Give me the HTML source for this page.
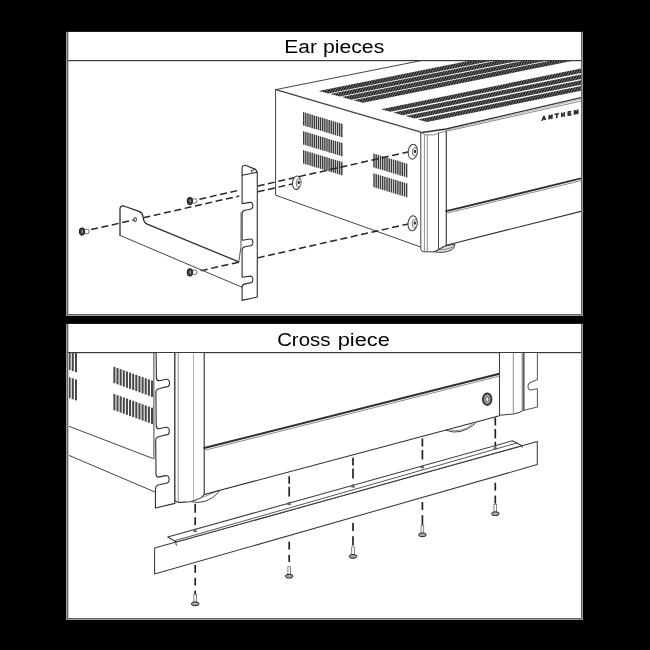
<!DOCTYPE html>
<html><head><meta charset="utf-8"><title>Rack mount</title>
<style>
html,body{margin:0;padding:0;background:#000;}
body{width:650px;height:650px;overflow:hidden;position:relative;font-family:"Liberation Sans",sans-serif;}
svg{position:absolute;left:0;top:0;display:block;will-change:transform;}
.k{fill:none;stroke:#2e2e2e;stroke-width:1.15;stroke-linecap:round;stroke-linejoin:round}
.m{fill:none;stroke:#444;stroke-width:1;stroke-linecap:round;stroke-linejoin:round}
.t{fill:none;stroke:#777;stroke-width:.85;stroke-linecap:round;stroke-linejoin:round}
.l{fill:none;stroke:#a8a8a8;stroke-width:.85;stroke-linecap:round}
.w{fill:#fff;stroke:#2e2e2e;stroke-width:1.1;stroke-linejoin:round}
.wm{fill:#fff;stroke:#3c3c3c;stroke-width:1.05;stroke-linejoin:round}
.d{fill:none;stroke:#262626;stroke-width:1.5;stroke-dasharray:7 3.6}
.dv{fill:none;stroke:#222;stroke-width:1.7}
.v{stroke:#3c3c3c;stroke-width:1.45;fill:none}
.v2{stroke:#484848;stroke-width:2.05;fill:none}
.h{font-family:"Liberation Sans",sans-serif;font-size:19.2px;fill:#000}
</style></head><body>
<svg width="650" height="650" viewBox="0 0 650 650">
<defs>
<pattern id="hatch" width="2.2" height="4" patternUnits="userSpaceOnUse" patternTransform="rotate(28)">
<rect width="2.2" height="4" fill="#7c7c7c"/><rect width="1.4" height="4" fill="#232323"/>
</pattern>
<clipPath id="c1"><rect x="69" y="61" width="512" height="253"/></clipPath>
<clipPath id="c2"><rect x="69" y="353" width="512" height="265"/></clipPath>
</defs>
<rect width="650" height="650" fill="#000"/>

<rect x="66" y="31" width="517" height="285" fill="#9a9a9a"/>
<rect x="67" y="31" width="515" height="284" fill="#666"/>
<rect x="66" y="31" width="517" height="1" fill="#1a1a1a"/>
<rect x="68" y="32" width="513" height="282" fill="#fff"/>
<rect x="68" y="32" width="1" height="282" fill="#c8c8c8"/>
<rect x="68" y="60" width="513" height="1.2" fill="#3a3a3a"/>
<rect x="66" y="323" width="517" height="297" fill="#9a9a9a"/>
<rect x="67" y="323" width="515" height="296" fill="#666"/>
<rect x="66" y="323" width="517" height="1" fill="#1a1a1a"/>
<rect x="68" y="324" width="513" height="294" fill="#fff"/>
<rect x="68" y="324" width="1" height="294" fill="#c8c8c8"/>
<rect x="68" y="352" width="513" height="1.2" fill="#3a3a3a"/>
<text x="284.28" y="52.9" class="h" textLength="32.6" lengthAdjust="spacingAndGlyphs">Ear</text>
<text x="322.9" y="52.9" class="h" textLength="61.39" lengthAdjust="spacingAndGlyphs">pieces</text>
<text x="277.15" y="346" class="h" textLength="53.2" lengthAdjust="spacingAndGlyphs">Cross</text>
<text x="337.68" y="346" class="h" textLength="52.21" lengthAdjust="spacingAndGlyphs">piece</text>
<g clip-path="url(#c1)">
<line x1="275.80" y1="89.60" x2="425.00" y2="59.80" class="m" />
<polygon points="318.6,90.9 586.0,37.4 586.0,42.0 328.3,93.5" fill="url(#hatch)"/>
<polygon points="330.1,94.0 586.0,42.8 586.0,47.4 339.8,96.6" fill="url(#hatch)"/>
<polygon points="341.6,97.1 586.0,48.2 586.0,52.8 351.3,99.7" fill="url(#hatch)"/>
<polygon points="353.1,100.2 586.0,53.6 586.0,58.2 362.8,102.8" fill="url(#hatch)"/>
<polygon points="381.0,109.2 586.0,67.5 586.0,72.0 390.4,111.8" fill="url(#hatch)"/>
<polygon points="393.2,112.6 586.0,73.4 586.0,77.9 402.6,115.2" fill="url(#hatch)"/>
<polygon points="405.4,116.0 586.0,79.2 586.0,83.8 414.8,118.6" fill="url(#hatch)"/>
<polygon points="417.6,119.4 586.0,85.1 586.0,89.7 427.0,122.0" fill="url(#hatch)"/>
<path d="M275.8,89.6 L420,131.9 Q421.4,132.4 421.3,134" class="m" style="stroke-width:1.5"/>
<path d="M275.6,89.6 L275.6,195.2 L421.3,247.2" class="m" />
<line x1="303.70" y1="112.20" x2="303.70" y2="125.60" class="v" />
<line x1="305.82" y1="112.84" x2="305.82" y2="126.24" class="v" />
<line x1="307.93" y1="113.48" x2="307.93" y2="126.88" class="v" />
<line x1="310.05" y1="114.12" x2="310.05" y2="127.52" class="v" />
<line x1="312.17" y1="114.77" x2="312.17" y2="128.17" class="v" />
<line x1="314.28" y1="115.41" x2="314.28" y2="128.81" class="v" />
<line x1="316.40" y1="116.05" x2="316.40" y2="129.45" class="v" />
<line x1="318.52" y1="116.69" x2="318.52" y2="130.09" class="v" />
<line x1="320.63" y1="117.33" x2="320.63" y2="130.73" class="v" />
<line x1="322.75" y1="117.97" x2="322.75" y2="131.37" class="v" />
<line x1="324.87" y1="118.61" x2="324.87" y2="132.01" class="v" />
<line x1="326.98" y1="119.25" x2="326.98" y2="132.65" class="v" />
<line x1="329.10" y1="119.90" x2="329.10" y2="133.30" class="v" />
<line x1="331.22" y1="120.54" x2="331.22" y2="133.94" class="v" />
<line x1="333.33" y1="121.18" x2="333.33" y2="134.58" class="v" />
<line x1="335.45" y1="121.82" x2="335.45" y2="135.22" class="v" />
<line x1="337.57" y1="122.46" x2="337.57" y2="135.86" class="v" />
<line x1="339.68" y1="123.10" x2="339.68" y2="136.50" class="v" />
<line x1="341.80" y1="123.74" x2="341.80" y2="137.14" class="v" />
<line x1="303.70" y1="131.30" x2="303.70" y2="144.70" class="v" />
<line x1="305.82" y1="131.94" x2="305.82" y2="145.34" class="v" />
<line x1="307.93" y1="132.58" x2="307.93" y2="145.98" class="v" />
<line x1="310.05" y1="133.22" x2="310.05" y2="146.62" class="v" />
<line x1="312.17" y1="133.87" x2="312.17" y2="147.27" class="v" />
<line x1="314.28" y1="134.51" x2="314.28" y2="147.91" class="v" />
<line x1="316.40" y1="135.15" x2="316.40" y2="148.55" class="v" />
<line x1="318.52" y1="135.79" x2="318.52" y2="149.19" class="v" />
<line x1="320.63" y1="136.43" x2="320.63" y2="149.83" class="v" />
<line x1="322.75" y1="137.07" x2="322.75" y2="150.47" class="v" />
<line x1="324.87" y1="137.71" x2="324.87" y2="151.11" class="v" />
<line x1="326.98" y1="138.35" x2="326.98" y2="151.75" class="v" />
<line x1="329.10" y1="139.00" x2="329.10" y2="152.40" class="v" />
<line x1="331.22" y1="139.64" x2="331.22" y2="153.04" class="v" />
<line x1="333.33" y1="140.28" x2="333.33" y2="153.68" class="v" />
<line x1="335.45" y1="140.92" x2="335.45" y2="154.32" class="v" />
<line x1="337.57" y1="141.56" x2="337.57" y2="154.96" class="v" />
<line x1="339.68" y1="142.20" x2="339.68" y2="155.60" class="v" />
<line x1="341.80" y1="142.84" x2="341.80" y2="156.24" class="v" />
<line x1="303.70" y1="150.30" x2="303.70" y2="163.70" class="v" />
<line x1="305.82" y1="150.94" x2="305.82" y2="164.34" class="v" />
<line x1="307.93" y1="151.58" x2="307.93" y2="164.98" class="v" />
<line x1="310.05" y1="152.22" x2="310.05" y2="165.62" class="v" />
<line x1="312.17" y1="152.87" x2="312.17" y2="166.27" class="v" />
<line x1="314.28" y1="153.51" x2="314.28" y2="166.91" class="v" />
<line x1="316.40" y1="154.15" x2="316.40" y2="167.55" class="v" />
<line x1="318.52" y1="154.79" x2="318.52" y2="168.19" class="v" />
<line x1="320.63" y1="155.43" x2="320.63" y2="168.83" class="v" />
<line x1="322.75" y1="156.07" x2="322.75" y2="169.47" class="v" />
<line x1="324.87" y1="156.71" x2="324.87" y2="170.11" class="v" />
<line x1="326.98" y1="157.35" x2="326.98" y2="170.75" class="v" />
<line x1="329.10" y1="158.00" x2="329.10" y2="171.40" class="v" />
<line x1="331.22" y1="158.64" x2="331.22" y2="172.04" class="v" />
<line x1="333.33" y1="159.28" x2="333.33" y2="172.68" class="v" />
<line x1="335.45" y1="159.92" x2="335.45" y2="173.32" class="v" />
<line x1="337.57" y1="160.56" x2="337.57" y2="173.96" class="v" />
<line x1="339.68" y1="161.20" x2="339.68" y2="174.60" class="v" />
<line x1="341.80" y1="161.84" x2="341.80" y2="175.24" class="v" />
<line x1="374.00" y1="153.60" x2="374.00" y2="167.50" class="v" />
<line x1="376.17" y1="154.26" x2="376.17" y2="168.16" class="v" />
<line x1="378.35" y1="154.92" x2="378.35" y2="168.82" class="v" />
<line x1="380.52" y1="155.58" x2="380.52" y2="169.48" class="v" />
<line x1="382.69" y1="156.23" x2="382.69" y2="170.13" class="v" />
<line x1="384.87" y1="156.89" x2="384.87" y2="170.79" class="v" />
<line x1="387.04" y1="157.55" x2="387.04" y2="171.45" class="v" />
<line x1="389.21" y1="158.21" x2="389.21" y2="172.11" class="v" />
<line x1="391.39" y1="158.87" x2="391.39" y2="172.77" class="v" />
<line x1="393.56" y1="159.53" x2="393.56" y2="173.43" class="v" />
<line x1="395.73" y1="160.19" x2="395.73" y2="174.09" class="v" />
<line x1="397.91" y1="160.84" x2="397.91" y2="174.74" class="v" />
<line x1="400.08" y1="161.50" x2="400.08" y2="175.40" class="v" />
<line x1="402.25" y1="162.16" x2="402.25" y2="176.06" class="v" />
<line x1="404.43" y1="162.82" x2="404.43" y2="176.72" class="v" />
<line x1="406.60" y1="163.48" x2="406.60" y2="177.38" class="v" />
<line x1="374.00" y1="173.40" x2="374.00" y2="187.30" class="v" />
<line x1="376.17" y1="174.06" x2="376.17" y2="187.96" class="v" />
<line x1="378.35" y1="174.72" x2="378.35" y2="188.62" class="v" />
<line x1="380.52" y1="175.38" x2="380.52" y2="189.28" class="v" />
<line x1="382.69" y1="176.03" x2="382.69" y2="189.93" class="v" />
<line x1="384.87" y1="176.69" x2="384.87" y2="190.59" class="v" />
<line x1="387.04" y1="177.35" x2="387.04" y2="191.25" class="v" />
<line x1="389.21" y1="178.01" x2="389.21" y2="191.91" class="v" />
<line x1="391.39" y1="178.67" x2="391.39" y2="192.57" class="v" />
<line x1="393.56" y1="179.33" x2="393.56" y2="193.23" class="v" />
<line x1="395.73" y1="179.99" x2="395.73" y2="193.89" class="v" />
<line x1="397.91" y1="180.64" x2="397.91" y2="194.54" class="v" />
<line x1="400.08" y1="181.30" x2="400.08" y2="195.20" class="v" />
<line x1="402.25" y1="181.96" x2="402.25" y2="195.86" class="v" />
<line x1="404.43" y1="182.62" x2="404.43" y2="196.52" class="v" />
<line x1="406.60" y1="183.28" x2="406.60" y2="197.18" class="v" />
<path d="M91.1,229.60 L136.2,219.37" class="d" />
<path d="M143.3,217.76 L239.2,196.00" class="d" />
<path d="M257.7,191.80 L292.6,183.88" class="d" />
<path d="M199.4,199.20 L239.5,190.12" class="d" />
<path d="M257.7,186.00 L408.8,151.77" class="d" />
<path d="M200.8,270.70 L239.3,262.02" class="d" />
<path d="M257.7,257.87 L408.6,223.86" class="d" />
<ellipse cx="296.6" cy="182.8" rx="4.1" ry="6.8" fill="#fff" stroke="#3a3a3a" stroke-width="1" transform="rotate(6 296.6 182.8)"/>
<ellipse cx="298.70000000000005" cy="182.60000000000002" rx="2.5" ry="4.1" fill="#eee" stroke="#555" stroke-width=".8" transform="rotate(6 296.6 182.8)"/>
<ellipse cx="298.8" cy="182.5" rx="1.1" ry="1.7" fill="#222"/>
<ellipse cx="412.8" cy="151.7" rx="4.6" ry="7.5" fill="#fff" stroke="#3a3a3a" stroke-width="1" transform="rotate(6 412.8 151.7)"/>
<ellipse cx="414.90000000000003" cy="151.5" rx="2.5" ry="4.1" fill="#eee" stroke="#555" stroke-width=".8" transform="rotate(6 412.8 151.7)"/>
<ellipse cx="415.0" cy="151.39999999999998" rx="1.1" ry="1.7" fill="#222"/>
<ellipse cx="412.6" cy="223.3" rx="4.6" ry="7.5" fill="#fff" stroke="#3a3a3a" stroke-width="1" transform="rotate(6 412.6 223.3)"/>
<ellipse cx="414.70000000000005" cy="223.10000000000002" rx="2.5" ry="4.1" fill="#eee" stroke="#555" stroke-width=".8" transform="rotate(6 412.6 223.3)"/>
<ellipse cx="414.8" cy="223.0" rx="1.1" ry="1.7" fill="#222"/>
<path d="M420.8,134 L420.8,249.4 Q421.4,251.8 424,251.8 L433,251.8 Q436,251.6 438.6,249.6 Q442,247 446.3,245.6 L446.3,130.2 L422,132.5 Z" fill="#fff" stroke="none"/>
<path d="M433.6,251.7 Q444,253.6 451,250.2 Q455,248 455,244.4 L446.3,245.6 Q442,247 438.6,249.6 Q436,251.4 433.6,251.7 Z" fill="#ddd" stroke="#444" stroke-width="1" stroke-linejoin="round"/>
<path d="M438.6,249.8 Q447,250 454.8,246.6" class="t" />
<path d="M446.3,130.2 L446.3,245.6" class="m" style="stroke-width:1.2"/>
<path d="M420.8,133.4 L420.8,249.4 Q421.4,251.8 424,251.8 L433,251.8 Q436,251.6 438.6,249.6 Q442,247 446.3,245.6" class="m" />
<path d="M422.4,133 Q424,134.9 427,134.9 L434,134.9 Q437,134.4 438.5,133" class="t" />
<line x1="424.40" y1="134.90" x2="424.40" y2="251.40" class="t" />
<line x1="427.30" y1="135.00" x2="427.30" y2="251.60" class="t" />
<line x1="438.50" y1="133.00" x2="438.50" y2="249.60" class="m" />
<path d="M422,132.5 L446.3,129.0 L585,96.7" class="k" style="stroke-width:1.3"/>
<path d="M446.3,130.2 L585,98.3" class="l" />
<path d="M438.5,133 L446.3,131.3 L585,100.2" class="t" />
<path d="M446.3,211.2 L585,177.4" class="k" style="stroke-width:1.9"/>
<path d="M446.3,213.4 L585,179.7" class="t" />
<path d="M446.3,245.2 L585,210.4" class="k" />
<text x="0" y="0" transform="translate(541.8,120.6) skewY(-10.7)" textLength="36.8" lengthAdjust="spacing" style="font-family:'Liberation Sans',sans-serif;font-weight:bold;font-size:5.7px;fill:#2a2a2a;stroke:#2a2a2a;stroke-width:.75;stroke-linejoin:miter">ANTHEM</text>
<path d="M120,235.4 L120,209.2 Q120,205.2 123.8,206 L139,211.3 Q142.4,212.6 142.9,216 L143.4,219 Q144,222.6 147.2,224.2 L238.8,261.8" class="k" style="stroke-width:1.3"/>
<path d="M120,235.4 L242,287.2" class="m" />
<ellipse cx="135.2" cy="219.6" rx="1.3" ry="2.2" fill="#ddd" stroke="#333" stroke-width=".9"/>
<path d="M242.1,175.3 L242.1,203.6 L250.29999999999998,202.4 C253.7,202.0 253.7,209.0 250.29999999999998,209.2 L245.1,210.2 Q242.1,210.79999999999998 242.1,213.39999999999998 L242.1,240.2 L250.29999999999998,239.0 C253.7,238.6 253.7,245.6 250.29999999999998,245.79999999999998 L245.1,246.79999999999998 Q242.1,247.39999999999998 242.1,249.99999999999997 L242.1,277.3 L250.29999999999998,276.1 C253.7,275.7 253.7,282.70000000000005 250.29999999999998,282.90000000000003 L245.1,283.90000000000003 Q242.1,284.50000000000006 242.1,287.1 L242.1,300.4 L257.3,297 L257.3,172.2 Z" class="w" />
<path d="M242.1,175.3 L242.1,168.2 Q242.2,164.9 245.4,165.3 L255.6,169.4 L257.3,172.2" class="k" />
<path d="M251.3,170.6 L252.4,173.2 M251.3,170.6 L255.6,169.4" class="m" />
<path d="M241.1,212.6 L241.0,246.5 L238.8,261.8" class="t" style="stroke:#555;stroke-width:1"/>
<rect x="84" y="229.29999999999998" width="5" height="4.3" rx="1.7" fill="#fff" stroke="#555" stroke-width=".9"/>
<ellipse cx="82" cy="231.6" rx="2.5" ry="3.5" fill="#4a4a4a" stroke="#1e1e1e" stroke-width="1.2"/>
<ellipse cx="82.3" cy="231.4" rx=".6" ry="1.5" fill="#9a9a9a"/>
<rect x="191.9" y="198.79999999999998" width="5" height="4.3" rx="1.7" fill="#fff" stroke="#555" stroke-width=".9"/>
<ellipse cx="189.9" cy="201.1" rx="2.5" ry="3.5" fill="#4a4a4a" stroke="#1e1e1e" stroke-width="1.2"/>
<ellipse cx="190.20000000000002" cy="200.9" rx=".6" ry="1.5" fill="#9a9a9a"/>
<rect x="191.9" y="270.09999999999997" width="5" height="4.3" rx="1.7" fill="#fff" stroke="#555" stroke-width=".9"/>
<ellipse cx="189.9" cy="272.4" rx="2.5" ry="3.5" fill="#4a4a4a" stroke="#1e1e1e" stroke-width="1.2"/>
<ellipse cx="190.20000000000002" cy="272.2" rx=".6" ry="1.5" fill="#9a9a9a"/>
</g>
<g clip-path="url(#c2)">
<line x1="69.60" y1="349.00" x2="69.60" y2="370.00" class="v2" />
<line x1="72.80" y1="350.10" x2="72.80" y2="371.10" class="v2" />
<line x1="76.00" y1="351.20" x2="76.00" y2="372.20" class="v2" />
<line x1="69.60" y1="377.20" x2="69.60" y2="398.20" class="v2" />
<line x1="72.80" y1="378.30" x2="72.80" y2="399.30" class="v2" />
<line x1="76.00" y1="379.40" x2="76.00" y2="400.40" class="v2" />
<line x1="114.40" y1="366.90" x2="114.40" y2="383.20" class="v2" />
<line x1="117.53" y1="368.04" x2="117.53" y2="384.34" class="v2" />
<line x1="120.67" y1="369.17" x2="120.67" y2="385.47" class="v2" />
<line x1="123.80" y1="370.31" x2="123.80" y2="386.61" class="v2" />
<line x1="126.93" y1="371.45" x2="126.93" y2="387.75" class="v2" />
<line x1="130.07" y1="372.59" x2="130.07" y2="388.89" class="v2" />
<line x1="133.20" y1="373.72" x2="133.20" y2="390.02" class="v2" />
<line x1="136.33" y1="374.86" x2="136.33" y2="391.16" class="v2" />
<line x1="139.47" y1="376.00" x2="139.47" y2="392.30" class="v2" />
<line x1="142.60" y1="377.14" x2="142.60" y2="393.44" class="v2" />
<line x1="145.73" y1="378.27" x2="145.73" y2="394.57" class="v2" />
<line x1="148.87" y1="379.41" x2="148.87" y2="395.71" class="v2" />
<line x1="152.00" y1="380.55" x2="152.00" y2="396.85" class="v2" />
<line x1="114.40" y1="394.00" x2="114.40" y2="410.30" class="v2" />
<line x1="117.53" y1="395.14" x2="117.53" y2="411.44" class="v2" />
<line x1="120.67" y1="396.27" x2="120.67" y2="412.57" class="v2" />
<line x1="123.80" y1="397.41" x2="123.80" y2="413.71" class="v2" />
<line x1="126.93" y1="398.55" x2="126.93" y2="414.85" class="v2" />
<line x1="130.07" y1="399.69" x2="130.07" y2="415.99" class="v2" />
<line x1="133.20" y1="400.82" x2="133.20" y2="417.12" class="v2" />
<line x1="136.33" y1="401.96" x2="136.33" y2="418.26" class="v2" />
<line x1="139.47" y1="403.10" x2="139.47" y2="419.40" class="v2" />
<line x1="142.60" y1="404.24" x2="142.60" y2="420.54" class="v2" />
<line x1="145.73" y1="405.37" x2="145.73" y2="421.67" class="v2" />
<line x1="148.87" y1="406.51" x2="148.87" y2="422.81" class="v2" />
<line x1="152.00" y1="407.65" x2="152.00" y2="423.95" class="v2" />
<path d="M69,426.3 L152.6,458.4" class="m" />
<line x1="153.90" y1="353.00" x2="153.90" y2="458.80" class="m" />
<path d="M69,455.4 L155.8,492.4" class="m" />
<path d="M156.1,352 L156.4,377.90000000000003 Q156.6,380.7 159.1,380.8 L166.1,379.3 C170.7,378.7 170.7,386.90000000000003 166.1,386.90000000000003 L159.7,388.5 Q156.1,389.3 155.9,392.3 L156.20000000000002,425.90000000000003 Q156.4,428.7 158.9,428.8 L165.9,427.3 C170.5,426.7 170.5,434.90000000000003 165.9,434.90000000000003 L159.5,436.5 Q155.9,437.3 155.70000000000002,440.3 L156.0,474.20000000000005 Q156.2,477.0 158.7,477.1 L165.7,475.6 C170.29999999999998,475.0 170.29999999999998,483.20000000000005 165.7,483.20000000000005 L159.29999999999998,484.8 Q155.7,485.6 155.5,488.6 L155.4,508 L174.9,503.4 L174.9,352 Z" class="w" />
<path d="M174.9,352 L174.9,500.6 Q176.6,502.6 181,502.4 L190,501.8 Q200,500 204.2,494.5 L204.2,352 Z" class="w"/>
<line x1="178.20" y1="353.00" x2="178.20" y2="501.60" class="t" />
<line x1="193.50" y1="353.00" x2="193.50" y2="500.50" class="l" />
<path d="M190.6,501.6 Q206,505.6 218.6,492.4 L218.8,490.6" class="m" />
<path d="M190.6,501.6 Q204,497 218.6,490.6" class="t" />
<path d="M204.2,448 L499.5,373.8" class="k" style="stroke-width:2.1"/>
<path d="M204.2,450.4 L499.5,376.1" class="t" />
<path d="M204.2,494.5 L499.5,415.8" class="k" />
<path d="M445.8,430.2 Q461,436.4 475.4,423.4" class="m" />
<path d="M449,429.8 Q461,433.4 472,424.6" class="t" />
<ellipse cx="487.2" cy="399.2" rx="4.3" ry="5.9" fill="#9a9a9a" stroke="#2e2e2e" stroke-width="1.7"/>
<ellipse cx="487.3" cy="399.3" rx="1.5" ry="2.2" fill="#f0f0f0" stroke="#555" stroke-width=".7"/>
<path d="M537.4,352 L537.4,379.6 L531,382.2 C527,383.6 527,390.4 531,390 L537.4,388.8 L537.4,406.9 L523.2,410.4 L523.2,352 Z" class="wm" style="stroke:#5a5a5a"/>
<path d="M499.5,352 L499.5,415.3 L513,414 Q519.4,413.2 523.2,410.4 L523.2,352 Z" class="wm"/>
<line x1="513.30" y1="353.00" x2="513.30" y2="413.80" class="t" />
<line x1="522.20" y1="353.00" x2="522.20" y2="410.60" class="t" />
<line x1="524.30" y1="353.00" x2="524.30" y2="410.00" class="t" />
<polygon points="154.6,548 537.3,441.5 537.3,464.6 154.6,574" class="wm"/>
<polygon points="167.7,537 512.5,440.8 522,445.7 176.2,542.0" class="wm"/>
<path d="M175,540.6 L516.9,443" class="m" style="stroke-width:.9"/>
<path d="M175.6,542 L176.4,545.4" class="m" />
<path d="M521.8,445.6 L522.2,447.2" class="m" />
<line x1="195.20" y1="503.80" x2="195.20" y2="512.80" class="dv" />
<line x1="195.20" y1="517.20" x2="195.20" y2="525.20" class="dv" />
<line x1="195.20" y1="565.00" x2="195.20" y2="572.80" class="dv" />
<line x1="195.20" y1="577.80" x2="195.20" y2="585.60" class="dv" />
<line x1="195.20" y1="590.60" x2="195.20" y2="594.60" class="dv" />
<path d="M193.6,531.7 L195.2,528.7 L196.79999999999998,531.7 Z" fill="#777" stroke="#444" stroke-width=".6"/>
<rect x="193.89999999999998" y="594.3" width="2.6" height="9" fill="#fff" stroke="#666" stroke-width=".8"/>
<ellipse cx="195.2" cy="603.8" rx="3.8" ry="1.9" fill="#aaa" stroke="#222" stroke-width="1"/>
<line x1="289.20" y1="476.20" x2="289.20" y2="483.80" class="dv" />
<line x1="289.20" y1="486.80" x2="289.20" y2="496.50" class="dv" />
<line x1="289.20" y1="541.70" x2="289.20" y2="549.60" class="dv" />
<line x1="289.20" y1="555.00" x2="289.20" y2="562.00" class="dv" />
<path d="M287.59999999999997,504.8 L289.2,501.8 L290.8,504.8 Z" fill="#777" stroke="#444" stroke-width=".6"/>
<rect x="287.9" y="566.7" width="2.6" height="9" fill="#fff" stroke="#666" stroke-width=".8"/>
<ellipse cx="289.2" cy="576.2" rx="3.8" ry="1.9" fill="#aaa" stroke="#222" stroke-width="1"/>
<line x1="353.00" y1="457.70" x2="353.00" y2="465.40" class="dv" />
<line x1="353.00" y1="468.60" x2="353.00" y2="478.40" class="dv" />
<line x1="353.00" y1="523.00" x2="353.00" y2="531.00" class="dv" />
<line x1="353.00" y1="536.20" x2="353.00" y2="545.60" class="dv" />
<path d="M351.4,487.2 L353.0,484.2 L354.6,487.2 Z" fill="#777" stroke="#444" stroke-width=".6"/>
<rect x="351.7" y="546.9" width="2.6" height="9" fill="#fff" stroke="#666" stroke-width=".8"/>
<ellipse cx="353.0" cy="556.4" rx="3.8" ry="1.9" fill="#aaa" stroke="#222" stroke-width="1"/>
<line x1="422.40" y1="438.50" x2="422.40" y2="446.50" class="dv" />
<line x1="422.40" y1="450.00" x2="422.40" y2="459.60" class="dv" />
<line x1="422.40" y1="502.00" x2="422.40" y2="510.00" class="dv" />
<line x1="422.40" y1="515.20" x2="422.40" y2="524.80" class="dv" />
<path d="M420.79999999999995,468.0 L422.4,465.0 L424.0,468.0 Z" fill="#777" stroke="#444" stroke-width=".6"/>
<rect x="421.09999999999997" y="525.3" width="2.6" height="9" fill="#fff" stroke="#666" stroke-width=".8"/>
<ellipse cx="422.4" cy="534.8" rx="3.8" ry="1.9" fill="#aaa" stroke="#222" stroke-width="1"/>
<line x1="495.30" y1="417.50" x2="495.30" y2="425.50" class="dv" />
<line x1="495.30" y1="429.00" x2="495.30" y2="438.40" class="dv" />
<line x1="495.30" y1="441.80" x2="495.30" y2="445.40" class="dv" />
<line x1="495.30" y1="482.70" x2="495.30" y2="490.60" class="dv" />
<line x1="495.30" y1="495.60" x2="495.30" y2="503.60" class="dv" />
<path d="M493.7,448.8 L495.3,445.8 L496.90000000000003,448.8 Z" fill="#777" stroke="#444" stroke-width=".6"/>
<rect x="494.0" y="504.20000000000005" width="2.6" height="9" fill="#fff" stroke="#666" stroke-width=".8"/>
<ellipse cx="495.3" cy="513.7" rx="3.8" ry="1.9" fill="#aaa" stroke="#222" stroke-width="1"/>
</g>
</svg></body></html>
